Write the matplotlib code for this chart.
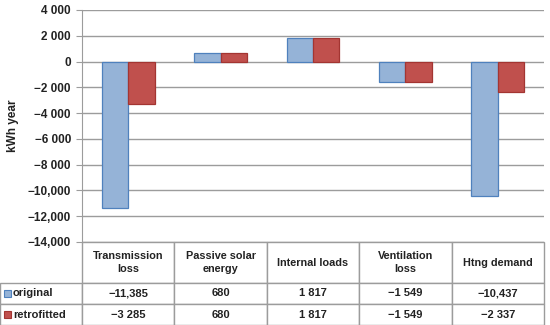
import numpy as np
import matplotlib.pyplot as plt
from matplotlib.patches import Rectangle

plt.rcParams["font.family"] = ["Liberation Sans", "DejaVu Sans"]

categories = ["Transmission\nloss", "Passive solar\nenergy", "Internal loads", "Ventilation\nloss", "Htng demand"]
series_names = ["original", "retrofitted"]
original = [-11385, 680, 1817, -1549, -10437]
retrofitted = [-3285, 680, 1817, -1549, -2337]
original_labels = ["\u221211,385", "680", "1 817", "\u22121 549", "\u221210,437"]
retrofitted_labels = ["\u22123 285", "680", "1 817", "\u22121 549", "\u22122 337"]
yticks = [4000, 2000, 0, -2000, -4000, -6000, -8000, -10000, -12000, -14000]
ytick_labels = ["4 000", "2 000", "0", "\u22122 000", "\u22124 000", "\u22126 000",
                "\u22128 000", "\u221210,000", "\u221212,000", "\u221214,000"]

face = ["#95B3D7", "#C0504D"]
edge = ["#4F81BD", "#A33532"]
grid_c = "#9c9c9c"

fig = plt.figure(figsize=(5.5, 3.25), dpi=100)
W, H = 550, 325
left, right, top, bottom = 82, 544, 10, 242
ax = fig.add_axes([left / W, 1 - bottom / H, (right - left) / W, (bottom - top) / H])

x = np.arange(len(categories))
bw = 0.2857
ax.bar(x - bw / 2, original, bw, color=face[0], edgecolor=edge[0], linewidth=0.9, zorder=3)
ax.bar(x + bw / 2, retrofitted, bw, color=face[1], edgecolor=edge[1], linewidth=0.9, zorder=3)

ax.set_xlim(-0.5, len(categories) - 0.5)
ax.set_ylim(-14000, 4000)
ax.set_yticks(yticks, ytick_labels)
for t in ax.get_yticklabels():
    t.set_fontweight("bold")
    t.set_fontsize(8.5)
    t.set_color("#222222")
ax.tick_params(axis="y", length=4, color=grid_c, pad=4)
ax.set_xticks([])
ax.yaxis.grid(True, color=grid_c, linewidth=1)
ax.set_axisbelow(True)
for s in ["top", "right", "bottom"]:
    ax.spines[s].set_visible(False)
ax.spines["left"].set_color(grid_c)
ax.set_ylabel("kWh year", fontsize=8.5, fontweight="bold", labelpad=6, color="#222222")

# data table below the plot
pw = right - left
ph = bottom - top
cell_text = [[""] + list(categories),
             [series_names[0]] + original_labels,
             [series_names[1]] + retrofitted_labels]
tbl = ax.table(cellText=cell_text, cellLoc="center",
               bbox=[-left / pw, -83 / ph, 1 + left / pw, 83 / ph])
tbl.auto_set_font_size(False)
tbl.set_fontsize(8)
col_w = [82] + [pw / 5] * 5
row_h = [41, 21, 21]
for (r, c), cell in tbl.get_celld().items():
    cell.set_width(col_w[c])
    cell.set_height(row_h[r])
    cell.set_edgecolor(grid_c)
    cell.set_linewidth(1)
    txt = cell.get_text()
    txt.set_fontweight("bold")
    txt.set_color("#222222")
    if r == 0:
        txt.set_fontsize(7.8)
        txt.set_linespacing(1.45)
    if c == 0:
        txt.set_ha("left")
        cell._loc = "left"
        cell.PAD = 0.16
tbl[0, 0].visible_edges = ""

for i in range(2):
    yc = bottom + 41 + 21 * i + 10.5
    ax.add_patch(Rectangle(((4 - left) / pw, (bottom - yc - 3.5) / ph), 7 / pw, 7 / ph,
                           transform=ax.transAxes, facecolor=face[i], edgecolor=edge[i],
                           linewidth=0.8, clip_on=False, zorder=5))

fig.savefig("out.png", dpi=100)
